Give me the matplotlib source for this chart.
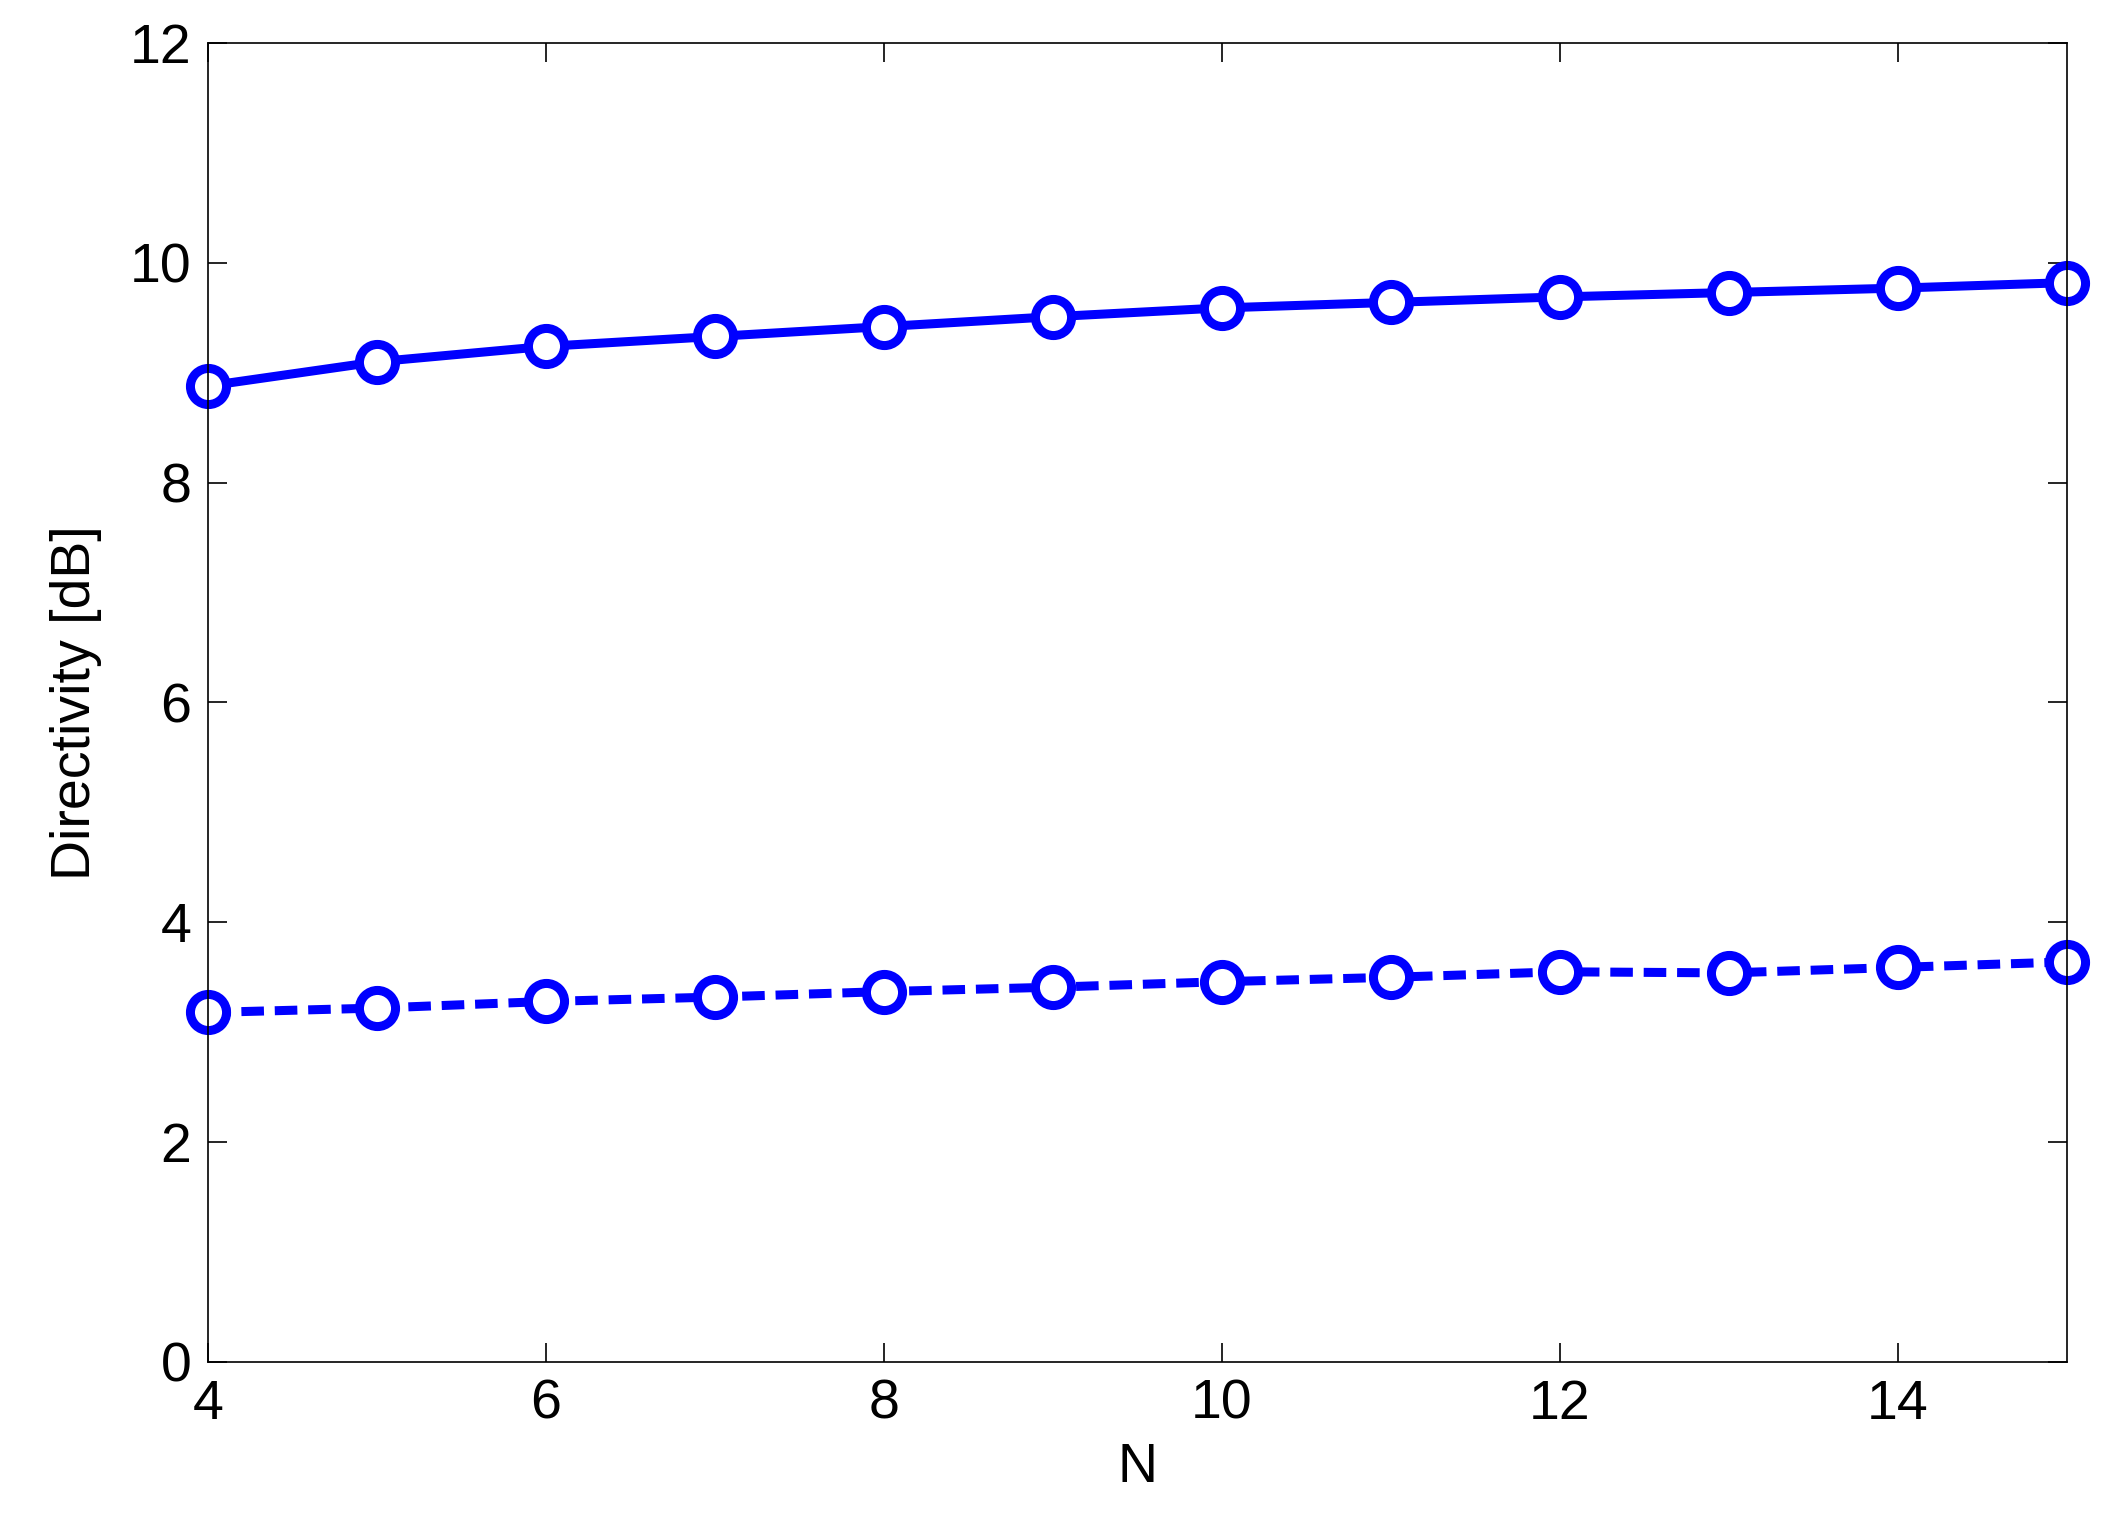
import matplotlib
matplotlib.use("Agg")
import matplotlib.pyplot as plt

n_values = [4, 5, 6, 7, 8, 9, 10, 11, 12, 13, 14, 15]
directivity_solid = [8.88, 9.10, 9.24, 9.33, 9.42, 9.51, 9.59, 9.64, 9.69, 9.73, 9.77, 9.82]
directivity_dashed = [3.18, 3.22, 3.28, 3.32, 3.37, 3.41, 3.46, 3.50, 3.55, 3.54, 3.59, 3.64]

plt.rcParams["font.family"] = ["Liberation Sans", "DejaVu Sans"]

fig = plt.figure(figsize=(21.05, 15.38), dpi=100)
ax = fig.add_axes([208 / 2105, 1 - 1362 / 1538, (2067 - 208) / 2105, (1362 - 43) / 1538])

style = dict(color="#0000ff", lw=6.5, marker="o", markersize=26,
             markerfacecolor="white", markeredgewidth=6.5, clip_on=False)
ax.plot(n_values, directivity_solid, ls="-", **style)
ax.plot(n_values, directivity_dashed, ls="--", dashes=(2.5, 1.2), **style)

ax.set_xlim(4, 15)
ax.set_ylim(0, 12)
ax.set_xticks([4, 6, 8, 10, 12, 14])
ax.set_yticks(range(0, 13, 2))
ax.tick_params(direction="in", length=14, width=1.2, labelsize=40,
               top=True, right=True, pad=12)
for s in ax.spines.values():
    s.set_linewidth(1.2)
ax.set_xlabel("N", fontsize=40, labelpad=8)
ax.set_ylabel("Directivity [dB]", fontsize=40, labelpad=20)

fig.savefig("out.png", dpi=100, facecolor="white")
